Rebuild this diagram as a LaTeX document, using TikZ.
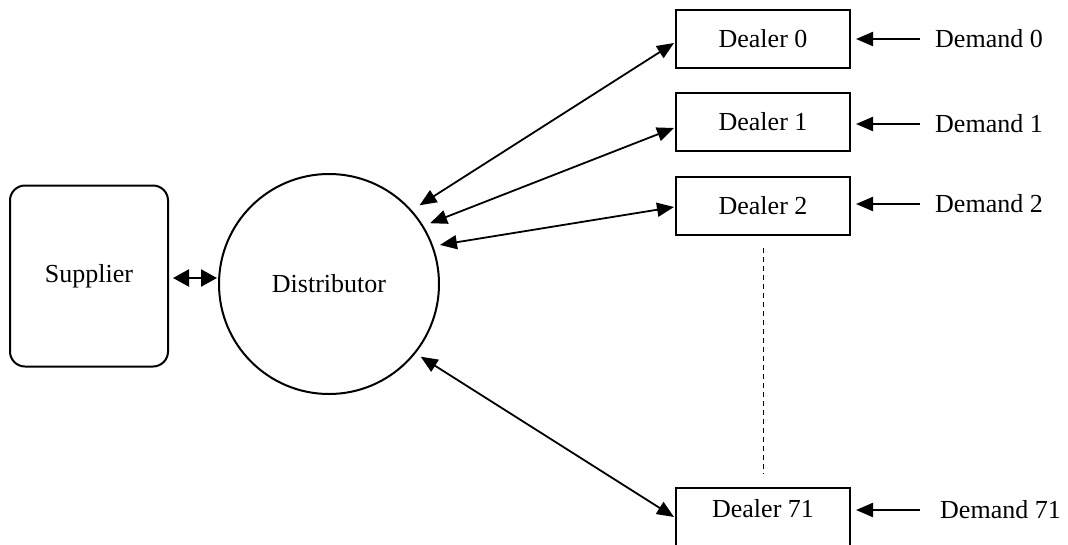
\documentclass[tikz,border=0pt]{standalone}
\usepackage{fontspec}
\setmainfont{Liberation Serif}
\usetikzlibrary{arrows.meta,calc}
\tikzset{
  lbl/.style={font=\fontsize{26}{30}\selectfont},
  txt/.style={lbl, inner sep=0pt},
  dealerbox/.style={draw, line width=2pt, minimum width=174pt, minimum height=58pt, inner sep=0pt, lbl},
  tip/.tip={Triangle[length=17pt,width=14pt]},
  dbl/.style={tip-tip, line width=1.8pt},
  sgl/.style={-tip, line width=2.2pt},
}
\begin{document}
\begin{tikzpicture}[x=1pt,y=-1pt]
\useasboundingbox (0,0) rectangle (1068,544);
\clip (0,0) rectangle (1068,544);
% supplier and distributor
\node[draw, line width=2pt, rounded corners=15pt, minimum width=158pt, minimum height=181pt, inner sep=0pt, lbl] (sup) at (89,276) {Supplier};
\node[draw, circle, line width=2pt, minimum size=220pt, inner sep=0pt, lbl] (dist) at (329,284) {Distributor};
% dealers
\node[dealerbox] (d0) at (763,39) {Dealer 0};
\node[dealerbox] (d1) at (763,122) {Dealer 1};
\node[dealerbox] (d2) at (763,206) {Dealer 2};
\node[dealerbox] (d71) at (763,517) {};
\node[txt] (d71t) at (763,509) {Dealer 71};
% demands
\node[txt, anchor=west] (dem0) at (935,39) {Demand 0};
\node[txt, anchor=west] (dem1) at (935,124) {Demand 1};
\node[txt, anchor=west] (dem2) at (935,204) {Demand 2};
\node[txt, anchor=west] (dem71) at (940,510) {Demand 71};
% supplier <-> distributor
\draw[{Triangle[length=16pt,width=17pt]}-{Triangle[length=16pt,width=17pt]}, line width=2.2pt] ($(sup.east)+(4pt,-2pt)$) -- ($(dist.west |- sup.east)+(-1pt,-2pt)$);
% distributor <-> dealers
\draw[dbl] ($(dist.center)+(41:120pt)$) -- ($(d0.west)+(-1pt,-4pt)$);
\draw[dbl] ($(dist.center)+(31:118pt)$) -- ($(d1.west)+(-1pt,-6pt)$);
\draw[dbl] ($(dist.center)+(19.4:117.6pt)$) -- ($(d2.west)+(-1pt,-1pt)$);
\draw[dbl] ($(dist.center)+(-38.4:117pt)$) -- ($(d71.west)+(-1pt,0pt)$);
% demand arrows
\draw[sgl, shorten >=5pt] ([xshift=-15pt]dem0.west) -- (d0.east |- dem0.west);
\draw[sgl, shorten >=5pt] ([xshift=-15pt]dem1.west) -- (d1.east |- dem1.west);
\draw[sgl, shorten >=5pt] ([xshift=-15pt]dem2.west) -- (d2.east |- dem2.west);
\draw[sgl, shorten >=5pt] ([xshift=-20pt]dem71.west) -- (d71.east |- dem71.west);
% dotted continuation
\draw[line width=1pt, dash pattern=on 5pt off 4pt] ($(d2.south)+(0,-12pt)$) -- ($(d71.north)+(0,13pt)$);
\end{tikzpicture}
\end{document}
